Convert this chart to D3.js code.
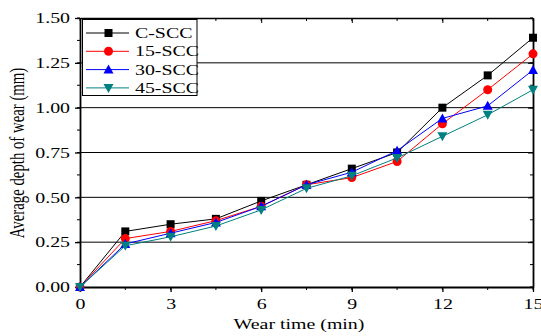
<!DOCTYPE html>
<html><head><meta charset="utf-8">
<script src="https://cdn.jsdelivr.net/npm/d3@7"></script>
<style>body{margin:0;background:#fff}svg{display:block}svg text{font-family:'Liberation Serif','Times New Roman',Times,serif !important;fill:#000}</style>
</head><body>
<script>
const times = [0, 1.5, 3, 4.5, 6, 7.5, 9, 10.5, 12, 13.5, 15];
const cSCC  = [0, 0.31, 0.35, 0.38, 0.48, 0.57, 0.66, 0.75, 1.00, 1.18, 1.39];
const s15   = [0, 0.27, 0.31, 0.37, 0.45, 0.57, 0.61, 0.70, 0.91, 1.10, 1.30];
const s30   = [0, 0.24, 0.30, 0.36, 0.45, 0.57, 0.64, 0.76, 0.94, 1.01, 1.21];
const s45   = [0, 0.23, 0.28, 0.34, 0.43, 0.55, 0.62, 0.72, 0.84, 0.96, 1.10];
const seriesNames = ["C-SCC", "15-SCC", "30-SCC", "45-SCC"];
const xTicks = [0, 3, 6, 9, 12, 15];
const yTicks = [0, 0.25, 0.5, 0.75, 1.0, 1.25, 1.5];

const W = 541, H = 336;
const m = {l: 80, r: 8, t: 18, b: 49};
const K = 1.42;      // horizontal stretch of the lettering
const FS = 14;
const FONT = "'Liberation Serif','Times New Roman',Times,serif";
const svg = d3.select("body").append("svg").attr("width", W).attr("height", H)
  .attr("font-family", FONT);
const x = d3.scaleLinear().domain([0, 15]).range([m.l, W - m.r]);
const y = d3.scaleLinear().domain([0, 1.5]).range([H - m.b, m.t]);

const series = [
  {name: seriesNames[0], vals: cSCC, color: "#000000", shape: "square"},
  {name: seriesNames[1], vals: s15, color: "#ff0000", shape: "circle"},
  {name: seriesNames[2], vals: s30, color: "#0000ff", shape: "up"},
  {name: seriesNames[3], vals: s45, color: "#008080", shape: "down"}
];

// grid
svg.append("g").selectAll("line").data(yTicks.filter(d => d > 0 && d < 1.5)).join("line")
  .attr("x1", m.l).attr("x2", W - m.r).attr("y1", d => y(d)).attr("y2", d => y(d))
  .attr("stroke", "#000").attr("stroke-width", 1);

const minorX = d3.range(0, 15.01, 1.5);
const minorY = d3.range(0, 1.501, 0.125);
function fmt(d){return d3.format(".2f")(d);}

// bottom axis (outward)
const gx = svg.append("g").attr("transform", `translate(0,${H - m.b})`)
  .call(d3.axisBottom(x).tickValues(xTicks).tickSize(5).tickSizeOuter(0).tickPadding(3));
gx.attr("font-family", FONT);
gx.selectAll(".tick line").attr("stroke", "#000").attr("stroke-width", 1.3);
gx.select(".domain").attr("stroke-width", 1.8);
gx.selectAll(".tick text").attr("font-size", FS).attr("y", 0).attr("dy", 0)
  .attr("transform", `translate(0,21.5) scale(${K},1)`);
gx.append("g").selectAll("line").data(minorX).join("line")
  .attr("x1", d => x(d)).attr("x2", d => x(d)).attr("y1", 0).attr("y2", 3).attr("stroke", "#000");

// left axis (outward)
const gy = svg.append("g").attr("transform", `translate(${m.l},0)`)
  .call(d3.axisLeft(y).tickValues(yTicks).tickFormat(fmt).tickSize(5).tickSizeOuter(0).tickPadding(3));
gy.attr("font-family", FONT);
gy.selectAll(".tick line").attr("stroke-width", 1.3);
gy.select(".domain").attr("stroke-width", 1.8);
gy.selectAll(".tick text").attr("font-size", FS).attr("x", 0).attr("dy", 0).attr("y", 0)
  .attr("transform", `translate(-10,4.8) scale(${K},1)`);
gy.append("g").selectAll("line").data(minorY).join("line")
  .attr("x1", 0).attr("x2", -3).attr("y1", d => y(d)).attr("y2", d => y(d)).attr("stroke", "#000");

// top axis (inward)
const gt = svg.append("g").attr("transform", `translate(0,${m.t})`)
  .call(d3.axisTop(x).tickValues(xTicks).tickSize(-5).tickSizeOuter(0).tickFormat(""));
gt.select(".domain").attr("stroke-width", 1.6);
gt.append("g").selectAll("line").data(minorX).join("line")
  .attr("x1", d => x(d)).attr("x2", d => x(d)).attr("y1", 0).attr("y2", 3).attr("stroke", "#000");

// right axis (inward)
const gr = svg.append("g").attr("transform", `translate(${W - m.r},0)`)
  .call(d3.axisRight(y).tickValues(yTicks).tickSize(-5).tickSizeOuter(0).tickFormat(""));
gr.select(".domain").attr("stroke-width", 1.8);
gr.append("g").selectAll("line").data(minorY).join("line")
  .attr("x1", 0).attr("x2", -3).attr("y1", d => y(d)).attr("y2", d => y(d)).attr("stroke", "#000");

function marker(g, shape, color, cx, cy) {
  if (shape === "square") {
    g.append("rect").attr("x", cx - 4).attr("y", cy - 4).attr("width", 8).attr("height", 8).attr("fill", color);
  } else if (shape === "circle") {
    g.append("circle").attr("cx", cx).attr("cy", cy).attr("r", 4.5).attr("fill", color);
  } else if (shape === "up") {
    g.append("path").attr("d", `M${cx},${cy-5}L${cx+5},${cy+4}L${cx-5},${cy+4}Z`).attr("fill", color);
  } else {
    g.append("path").attr("d", `M${cx},${cy+5}L${cx+5},${cy-4}L${cx-5},${cy-4}Z`).attr("fill", color);
  }
}

const line = d3.line().x((d, i) => x(times[i])).y(d => y(d));
series.forEach(s => {
  const g = svg.append("g");
  g.append("path").attr("d", line(s.vals)).attr("fill", "none").attr("stroke", s.color).attr("stroke-width", 1);
  s.vals.forEach((v, i) => marker(g, s.shape, s.color, x(times[i]), y(v)));
});

// legend
const lg = svg.append("g");
lg.append("rect").attr("x", 82.5).attr("y", 19.5).attr("width", 114.5).attr("height", 76)
  .attr("fill", "#fff").attr("stroke", "#000").attr("stroke-width", 1);
series.forEach((s, i) => {
  const cy = 33 + i * 18.3;
  lg.append("line").attr("x1", 86).attr("x2", 129).attr("y1", cy).attr("y2", cy).attr("stroke", s.color).attr("stroke-width", 1);
  marker(lg, s.shape, s.color, 108.5, cy);
  lg.append("text").attr("transform", `translate(135,${cy + 5}) scale(${K},1)`).attr("font-size", FS).text(s.name);
});

// titles
svg.append("text").attr("transform", `translate(299,329) scale(${K},1)`).attr("text-anchor", "middle")
  .attr("font-size", FS).text("Wear time (min)");
svg.append("text").attr("transform", `translate(23.5,153) rotate(-90) scale(1,${K})`).attr("text-anchor", "middle")
  .attr("font-size", 14.8).text("Average depth of wear (mm)");
</script>
</body></html>
